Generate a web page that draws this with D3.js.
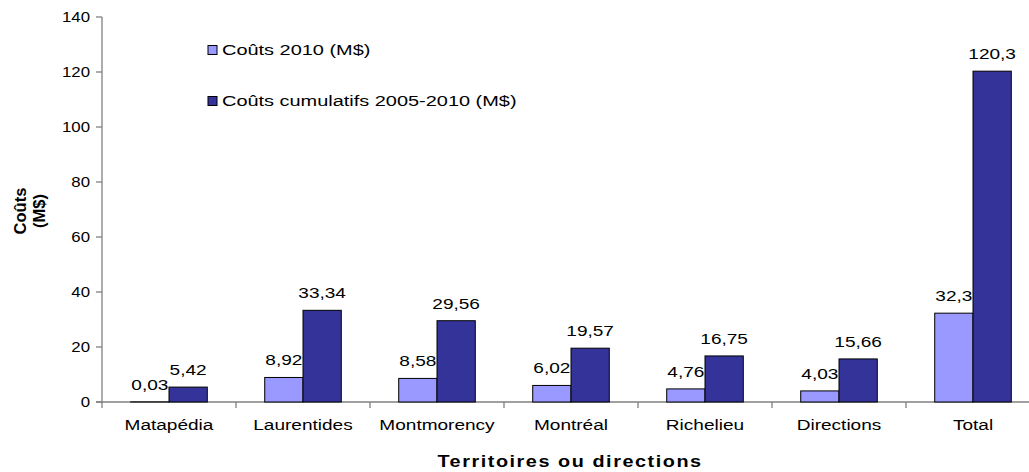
<!DOCTYPE html>
<html><head><meta charset="utf-8">
<script src="https://cdn.jsdelivr.net/npm/d3@7"></script>
<style>
html,body{margin:0;padding:0;background:#fff;}
svg{display:block;font-family:Arial,"Liberation Sans",sans-serif;}
</style></head>
<body>
<svg id="chart" width="1029" height="472"></svg>
<script>
const categories = ["Matapédia","Laurentides","Montmorency","Montréal","Richelieu","Directions","Total"];
const couts2010 = [0.03,8.92,8.58,6.02,4.76,4.03,32.3];
const coutsCumul = [5.42,33.34,29.56,19.57,16.75,15.66,120.3];
const seriesNames = ["Coûts 2010 (M$)","Coûts cumulatifs 2005-2010 (M$)"];
const seriesColors = ["#9999FF","#333399"];
const yTicks = [0,20,40,60,80,100,120,140];

const svg = d3.select("#chart");
const SX = 1.27;
const fmt = v => String(v).replace(".", ",");

function sText(parent, x, y, txt, o) {
  o = o || {};
  const g = parent.append("g").attr("transform", `translate(${x},${y}) scale(${o.sx || SX},1)`);
  const t = g.append("text").text(txt)
    .attr("text-anchor", o.anchor || "start")
    .attr("font-size", o.size || 15)
    .attr("fill", "#000");
  if (o.bold) t.attr("font-weight", "bold");
  if (o.ls) t.attr("letter-spacing", o.ls);
  if (o.dy) t.attr("dy", o.dy);
  return g;
}

const x = d3.scaleBand().domain(categories).range([102, 1040]).padding(0);
const xs = d3.scaleBand().domain([0,1]).range([0, x.bandwidth()]).paddingInner(0).paddingOuter(0.75);
const y = d3.scaleLinear().domain([0,140]).range([402, 17]);

const axisColor = "#808080";

// Y axis
svg.append("line").attr("x1",102).attr("x2",102).attr("y1",y(140)).attr("y2",y(0))
  .attr("stroke",axisColor).attr("stroke-width",1.3);
yTicks.forEach(t => {
  svg.append("line").attr("x1",96).attr("x2",102).attr("y1",y(t)).attr("y2",y(t))
    .attr("stroke",axisColor).attr("stroke-width",1.3);
  sText(svg, 90, y(t), String(t), {anchor:"end", size:14, sx:1.2, dy:"0.36em"});
});

// X axis
svg.append("line").attr("x1",96).attr("x2",1040).attr("y1",y(0)).attr("y2",y(0))
  .attr("stroke",axisColor).attr("stroke-width",1.3);
categories.forEach((c,i) => {
  svg.append("line").attr("x1",x(c)).attr("x2",x(c)).attr("y1",y(0)).attr("y2",y(0)+6)
    .attr("stroke",axisColor).attr("stroke-width",1.3);
  sText(svg, x(c) + x.bandwidth()/2, 430, c, {anchor:"middle", size:15});
});

// Bars series 1 + labels
const bw = xs.bandwidth();
categories.forEach((c,i) => {
  const v = couts2010[i];
  svg.append("rect").attr("x", x(c)+xs(0)).attr("y", y(v)).attr("width", bw).attr("height", y(0)-y(v))
    .attr("fill", seriesColors[0]).attr("stroke","#000").attr("stroke-width",1);
  sText(svg, x(c)+xs(0)+bw/2, y(v)-12, fmt(v), {anchor:"middle", size:15});
});
categories.forEach((c,i) => {
  const v = coutsCumul[i];
  svg.append("rect").attr("x", x(c)+xs(1)).attr("y", y(v)).attr("width", bw).attr("height", y(0)-y(v))
    .attr("fill", seriesColors[1]).attr("stroke","#000").attr("stroke-width",1);
  sText(svg, x(c)+xs(1)+bw/2, y(v)-12, fmt(v), {anchor:"middle", size:15});
});

// Legend
const legY = [50, 101];
seriesNames.forEach((n,i) => {
  svg.append("rect").attr("x",208).attr("y",legY[i]-4.5).attr("width",9).attr("height",9)
    .attr("fill",seriesColors[i]).attr("stroke","#000").attr("stroke-width",1);
  sText(svg, 222, legY[i], n, {size:15, sx:1.33, dy:"0.36em"});
});

// Axis titles
sText(svg, 570, 467, "Territoires ou directions", {anchor:"middle", size:16.5, bold:true, sx:1.2, ls:1.3});
const yl = svg.append("g").attr("transform","translate(26,211) rotate(-90)");
yl.append("text").attr("text-anchor","middle").attr("font-weight","bold").attr("font-size",16.5).text("Coûts");
yl.append("text").attr("text-anchor","middle").attr("font-weight","bold").attr("font-size",16.5).attr("y",19).text("(M$)");
</script>
</body></html>
